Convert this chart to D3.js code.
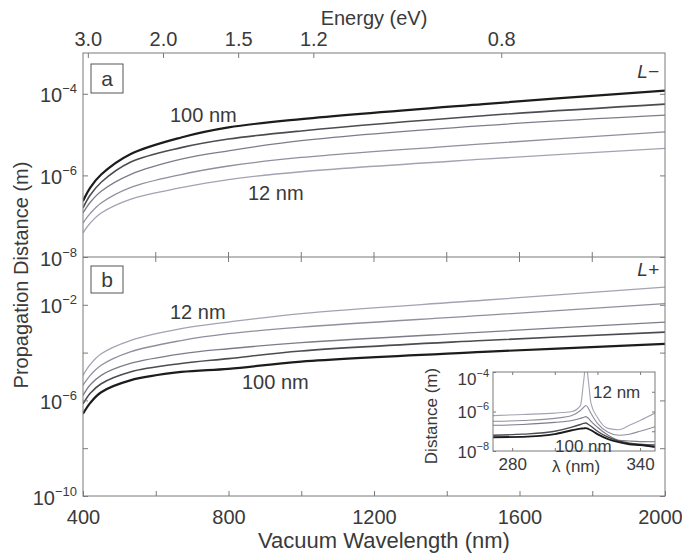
<!DOCTYPE html>
<html>
<head>
<meta charset="utf-8">
<script src="https://d3js.org/d3.v7.min.js"></script>
<style>
  body { margin: 0; background: #fff; }
  svg text { font-family: "Liberation Sans", Arial, sans-serif; fill: #3a3a3a; }
</style>
</head>
<body>
<script>
let wavelength = [400, 420, 450, 530, 670, 800, 1000, 1500, 2000];

// panel a, L- mode: propagation distance (m), 100 nm film first ... 12 nm last
let minus100 = [2.34e-7, 5.0e-7, 1.05e-6, 3.3e-6, 8.5e-6, 1.5e-5, 2.4e-5, 5.6e-5, 1.2e-4];
let minus2 = [1.6e-7, 3.3e-7, 6.8e-7, 2.1e-6, 4.8e-6, 7.8e-6, 1.23e-5, 2.9e-5, 5.6e-5];
let minus3 = [1.2e-7, 2.2e-7, 4.1e-7, 1.05e-6, 2.5e-6, 4.0e-6, 7.1e-6, 1.66e-5, 3.0e-5];
let minus4 = [6.8e-8, 1.17e-7, 2.1e-7, 5.0e-7, 1.05e-6, 1.7e-6, 2.75e-6, 5.9e-6, 1.17e-5];
let minus12 = [3.9e-8, 6.8e-8, 1.2e-7, 2.6e-7, 5.0e-7, 7.9e-7, 1.23e-6, 2.5e-6, 4.6e-6];

// panel b, L+ mode
let plus100 = [2.75e-7, 7.9e-7, 2.2e-6, 6.9e-6, 1.55e-5, 2.1e-5, 4.2e-5, 1.07e-4, 2.3e-4];
let plus2 = [7.2e-7, 2.0e-6, 5.0e-6, 1.55e-5, 3.5e-5, 5.6e-5, 1.17e-4, 3.2e-4, 7.2e-4];
let plus3 = [1.62e-6, 4.5e-6, 1.12e-5, 3.5e-5, 8.9e-5, 1.45e-4, 2.6e-4, 7.2e-4, 1.9e-3];
let plus4 = [4.3e-6, 1.12e-5, 2.95e-5, 1.07e-4, 3.2e-4, 6.2e-4, 1.17e-3, 3.6e-3, 1.12e-2];
let plus12 = [1.12e-5, 3.2e-5, 8.9e-5, 3.2e-4, 1.0e-3, 1.9e-3, 4.3e-3, 1.55e-2, 5.5e-2];

// inset (short wavelengths)
let insetWavelength = [271, 285, 300, 308, 312, 313.5, 314.6, 315.8, 317, 320, 325, 330, 335, 340, 347];
let inset100 = [5.0e-8, 5.2e-8, 7.1e-8, 1.12e-7, 1.35e-7, 1.4e-7, 1.45e-7, 1.3e-7, 1.12e-7, 7.1e-8, 4.0e-8, 2.8e-8, 2.2e-8, 2.0e-8, 1.6e-8];
let inset2 = [6.3e-8, 7.1e-8, 1.0e-7, 1.6e-7, 2.2e-7, 2.5e-7, 2.6e-7, 2.2e-7, 1.8e-7, 1.0e-7, 5.0e-8, 3.2e-8, 2.5e-8, 2.2e-8, 2.0e-8];
let inset3 = [2.0e-7, 2.2e-7, 2.8e-7, 3.5e-7, 4.5e-7, 5.0e-7, 5.5e-7, 4.5e-7, 3.2e-7, 1.6e-7, 6.3e-8, 3.5e-8, 3.2e-8, 3.0e-8, 2.95e-8];
let inset4 = [3.2e-7, 3.5e-7, 4.5e-7, 6.3e-7, 1.12e-6, 1.6e-6, 2.0e-6, 1.4e-6, 7.9e-7, 2.5e-7, 8.9e-8, 6.3e-8, 7.1e-8, 1.0e-7, 1.7e-7];
let inset12 = [6.2e-7, 7.1e-7, 8.3e-7, 1.0e-6, 2.0e-6, 3.2e-5, 2.5e-4, 3.2e-5, 2.5e-6, 5.0e-7, 1.4e-7, 1.2e-7, 2.0e-7, 3.5e-7, 8.3e-7];

let energyTicks = [3.0, 2.0, 1.5, 1.2, 0.8];
let insetTickLabels = [280, 340];

// styles, darkest (100 nm) first
let lineColor = ["#1c1c1c", "#4b4b52", "#7c7c8a", "#8f8f9e", "#a3a3b3"];
let lineWidth = [2.2, 1.6, 1.3, 1.3, 1.3];

let W = 682, H = 556;
let pL = 83, pR = 665, pT = 53, pM = 257, pB = 496;

let svg = d3.select("body").append("svg")
    .attr("width", W).attr("height", H);

let x = d3.scaleLinear().domain([400, 2000]).range([pL, pR]);
let yA = d3.scaleLog().domain([1e-8, 1e-3]).range([pM, pT]);
let yB = d3.scaleLog().domain([1e-10, 1]).range([pB, pM]);

function sup(sel, size, big, small) {
    // turn tick text into 10^n
    sel.each(function(d) {
        let t = d3.select(this).text(null);
        let e = Math.round(Math.log10(d));
        t.append("tspan").attr("font-size", big).text("10");
        t.append("tspan").attr("font-size", small).attr("dy", -size).text("\u2212" + Math.abs(e));
    });
}

// clip paths
let defs = svg.append("defs");
defs.append("clipPath").attr("id", "clipA").append("rect")
    .attr("x", pL).attr("y", pT).attr("width", pR - pL).attr("height", pM - pT);
defs.append("clipPath").attr("id", "clipB").append("rect")
    .attr("x", pL).attr("y", pM).attr("width", pR - pL).attr("height", pB - pM);

// curves
let seriesA = [minus100, minus2, minus3, minus4, minus12];
let seriesB = [plus100, plus2, plus3, plus4, plus12];

let lineA = d3.line().x((d, i) => x(wavelength[i])).y(d => yA(d)).curve(d3.curveCatmullRom.alpha(0.5));
let lineB = d3.line().x((d, i) => x(wavelength[i])).y(d => yB(d)).curve(d3.curveCatmullRom.alpha(0.5));

svg.append("g").attr("clip-path", "url(#clipA)")
    .selectAll("path").data(seriesA.map((s, i) => ({s, i})).reverse())
    .join("path")
    .attr("d", d => lineA(d.s))
    .attr("fill", "none")
    .attr("stroke", d => lineColor[d.i])
    .attr("stroke-width", d => lineWidth[d.i]);

svg.append("g").attr("clip-path", "url(#clipB)")
    .selectAll("path").data(seriesB.map((s, i) => ({s, i})).reverse())
    .join("path")
    .attr("d", d => lineB(d.s))
    .attr("fill", "none")
    .attr("stroke", d => lineColor[d.i])
    .attr("stroke-width", d => lineWidth[d.i]);

// frame
let frame = "#7a7a7a";
svg.append("rect").attr("x", pL).attr("y", pT)
    .attr("width", pR - pL).attr("height", pB - pT)
    .attr("fill", "none").attr("stroke", frame).attr("stroke-width", 1);
svg.append("line").attr("x1", pL).attr("x2", pR).attr("y1", pM).attr("y2", pM)
    .attr("stroke", frame).attr("stroke-width", 1.2);

// bottom axis
let xb = svg.append("g").attr("transform", `translate(0,${pB})`)
    .call(d3.axisBottom(x).tickValues(d3.range(400, 2001, 200))
        .tickSizeInner(-5).tickSizeOuter(0).tickPadding(14)
        .tickFormat(d => d % 400 === 0 ? d : ""));
xb.select(".domain").remove();
xb.selectAll(".tick line").attr("stroke", frame);
xb.selectAll(".tick text").attr("font-size", 20).attr("fill", "#3a3a3a")
    .attr("dx", d => d === 2000 ? -5 : 0);

// middle ticks
svg.append("g").selectAll("line").data(d3.range(600, 2000, 200))
    .join("line")
    .attr("x1", d => x(d)).attr("x2", d => x(d))
    .attr("y1", pM - 5).attr("y2", pM + 5)
    .attr("stroke", frame);

// top energy axis
let xt = svg.append("g").attr("transform", `translate(0,${pT})`)
    .call(d3.axisTop(x).tickValues(energyTicks.map(e => 1239.84 / e))
        .tickSizeInner(-5).tickSizeOuter(0).tickPadding(7)
        .tickFormat(d => (1239.84 / d).toFixed(1)));
xt.select(".domain").remove();
xt.selectAll(".tick line").attr("stroke", frame);
xt.selectAll(".tick text").attr("font-size", 20).attr("fill", "#3a3a3a");

// left axes
let ya = svg.append("g").attr("transform", `translate(${pL},0)`)
    .call(d3.axisLeft(yA).tickValues([1e-8, 1e-6, 1e-4]).tickSizeInner(-5).tickSizeOuter(0).tickPadding(6));
ya.select(".domain").remove();
ya.selectAll(".tick line").attr("stroke", frame);
ya.selectAll(".tick text").attr("dy", null).attr("y", 8).attr("fill", "#3a3a3a")
    .call(sup, 9, 20, 13);

let yb = svg.append("g").attr("transform", `translate(${pL},0)`)
    .call(d3.axisLeft(yB).tickValues([1e-10, 1e-8, 1e-6, 1e-4, 1e-2]).tickSizeInner(-5).tickSizeOuter(0).tickPadding(6));
yb.select(".domain").remove();
yb.selectAll(".tick line").attr("stroke", frame);
yb.selectAll(".tick text").attr("dy", null).attr("y", 8).attr("fill", "#3a3a3a")
    .call(sup, 9, 20, 13);
yb.selectAll(".tick text").filter(d => d === 1e-8 || d === 1e-4).remove();

// right side ticks
[[yA, [1e-8, 1e-6, 1e-4]], [yB, [1e-10, 1e-8, 1e-6, 1e-4, 1e-2]]].forEach(([s, v]) => {
    let g = svg.append("g").attr("transform", `translate(${pR},0)`)
        .call(d3.axisRight(s).tickValues(v).tickSizeInner(-5).tickSizeOuter(0).tickFormat(""));
    g.select(".domain").remove();
    g.selectAll(".tick line").attr("stroke", frame);
});

// axis titles
svg.append("text").attr("x", (pL + pR) / 2).attr("y", 25)
    .attr("text-anchor", "middle").attr("font-size", 20).text("Energy (eV)");
svg.append("text").attr("x", (pL + pR) / 2 + 10).attr("y", 548)
    .attr("text-anchor", "middle").attr("font-size", 22).text("Vacuum Wavelength (nm)");
svg.append("text").attr("transform", "translate(28,275) rotate(-90)")
    .attr("text-anchor", "middle").attr("font-size", 20).text("Propagation Distance (m)");

// panel letters
[["a", 64, 29], ["b", 266, 27]].forEach(([t, y0, h]) => {
    svg.append("rect").attr("x", 91).attr("y", y0).attr("width", 32).attr("height", h)
        .attr("fill", "#fff").attr("stroke", "#555").attr("stroke-width", 1);
    svg.append("text").attr("x", 107).attr("y", y0 + h / 2 + 7)
        .attr("text-anchor", "middle").attr("font-size", 21).text(t);
});

// mode labels
svg.append("text").attr("x", 659).attr("y", 78).attr("text-anchor", "end")
    .attr("font-size", 19).attr("font-style", "italic").text("L\u2212");
svg.append("text").attr("x", 659).attr("y", 276).attr("text-anchor", "end")
    .attr("font-size", 19).attr("font-style", "italic").text("L+");

// curve labels
svg.append("text").attr("x", 170).attr("y", 122).attr("font-size", 20).text("100 nm");
svg.append("text").attr("x", 248).attr("y", 200).attr("font-size", 20).text("12 nm");
svg.append("text").attr("x", 170).attr("y", 319).attr("font-size", 20).text("12 nm");
svg.append("text").attr("x", 242).attr("y", 389).attr("font-size", 20).text("100 nm");

// ---- inset ----
let iL = 493, iR = 655, iT = 372, iB = 451;
let xi = d3.scaleLinear().domain([271, 347]).range([iL, iR]);
let yi = d3.scaleLog().domain([1e-8, 1e-4]).range([iB, iT]);

defs.append("clipPath").attr("id", "clipI").append("rect")
    .attr("x", iL).attr("y", iT).attr("width", iR - iL).attr("height", iB - iT);

svg.append("rect").attr("x", iL).attr("y", iT).attr("width", iR - iL).attr("height", iB - iT)
    .attr("fill", "#fff");

let seriesI = [inset100, inset2, inset3, inset4, inset12];
let lineI = d3.line().x((d, i) => xi(insetWavelength[i])).y(d => yi(d)).curve(d3.curveMonotoneX);
svg.append("g").attr("clip-path", "url(#clipI)")
    .selectAll("path").data(seriesI.map((s, i) => ({s, i})).reverse())
    .join("path")
    .attr("d", d => lineI(d.s))
    .attr("fill", "none")
    .attr("stroke", d => lineColor[d.i])
    .attr("stroke-width", d => lineWidth[d.i] * 0.85);

svg.append("rect").attr("x", iL).attr("y", iT).attr("width", iR - iL).attr("height", iB - iT)
    .attr("fill", "none").attr("stroke", frame).attr("stroke-width", 1);

let ixb = svg.append("g").attr("transform", `translate(0,${iB})`)
    .call(d3.axisBottom(xi).tickValues([280, 300, 320, 340]).tickSizeInner(-3).tickSizeOuter(0)
        .tickPadding(7).tickFormat(d => insetTickLabels.includes(d) ? d : ""));
ixb.select(".domain").remove();
ixb.selectAll(".tick line").attr("stroke", frame);
ixb.selectAll(".tick text").attr("font-size", 17).attr("fill", "#3a3a3a");

let ixt = svg.append("g").attr("transform", `translate(0,${iT})`)
    .call(d3.axisTop(xi).tickValues([280, 300, 320, 340]).tickSizeInner(-3).tickSizeOuter(0).tickFormat(""));
ixt.select(".domain").remove();
ixt.selectAll(".tick line").attr("stroke", frame);

let iyl = svg.append("g").attr("transform", `translate(${iL},0)`)
    .call(d3.axisLeft(yi).tickValues([1e-8, 1e-6, 1e-4]).tickSizeInner(-3).tickSizeOuter(0).tickPadding(4));
iyl.select(".domain").remove();
iyl.selectAll(".tick line").attr("stroke", frame);
iyl.selectAll(".tick text").attr("dy", null).attr("y", d => d === 1e-4 ? 12 : 6).attr("fill", "#3a3a3a")
    .call(sup, 8, 17, 11);

let iyr = svg.append("g").attr("transform", `translate(${iR},0)`)
    .call(d3.axisRight(yi).tickValues([1e-7, 1e-6, 1e-5]).tickSizeInner(-3).tickSizeOuter(0).tickFormat(""));
iyr.select(".domain").remove();
iyr.selectAll(".tick line").attr("stroke", frame);

svg.append("text").attr("x", xi(310)).attr("y", 472).attr("text-anchor", "middle")
    .attr("font-size", 17).text("\u03bb (nm)");
svg.append("text").attr("transform", "translate(437,416) rotate(-90)")
    .attr("text-anchor", "middle").attr("font-size", 17).text("Distance (m)");
svg.append("text").attr("x", 593).attr("y", 398).attr("font-size", 17).text("12 nm");
svg.append("text").attr("x", 555).attr("y", 452).attr("font-size", 17).text("100 nm");
</script>
</body>
</html>
